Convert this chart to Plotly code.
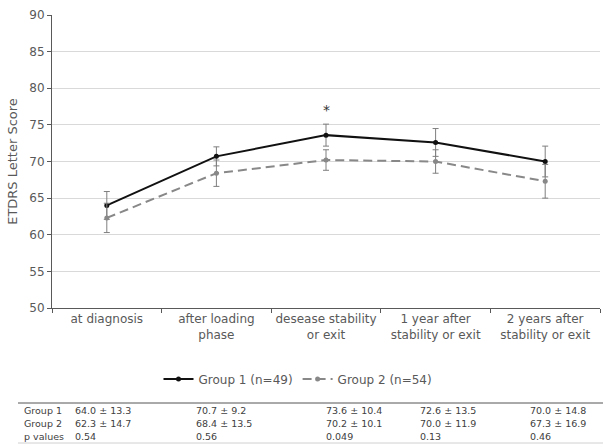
import plotly.graph_objects as go

categories = ["at diagnosis", "after loading<br>phase", "desease stability<br>or exit",
              "1 year after<br>stability or exit", "2 years after<br>stability or exit"]
group1_mean = [64.0, 70.7, 73.6, 72.6, 70.0]
group2_mean = [62.3, 68.4, 70.2, 70.0, 67.3]
group1_sd = [13.3, 9.2, 10.4, 13.5, 14.8]
group2_sd = [14.7, 13.5, 10.1, 11.9, 16.9]
group1_err = [1.9, 1.3, 1.5, 1.9, 2.1]
group2_err = [2.0, 1.8, 1.4, 1.6, 2.3]
p_values = ["0.54", "0.56", "0.049", "0.13", "0.46"]
y_ticks = [50, 55, 60, 65, 70, 75, 80, 85, 90]

FONT = "DejaVu Sans"
TXT = "#595959"

fig = go.Figure()
fig.add_trace(go.Scatter(
    x=categories, y=group1_mean, name="Group 1 (n=49)", mode="lines+markers",
    line=dict(color="#111111", width=2), marker=dict(size=5, color="#111111"),
    error_y=dict(type="data", array=group1_err, color="#7f7f7f", thickness=1, width=3),
))
fig.add_trace(go.Scatter(
    x=categories, y=group2_mean, name="Group 2 (n=54)", mode="lines+markers",
    line=dict(color="#888888", width=2, dash="9px,5px"), marker=dict(size=5, color="#888888"),
    error_y=dict(type="data", array=group2_err, color="#7f7f7f", thickness=1, width=3),
))

# significance marker
fig.add_annotation(x=categories[2], y=group1_mean[2] + group1_err[2], text="*",
                   showarrow=False, yshift=14, font=dict(size=14, color="#333333", family=FONT))

W, H = 604, 444
ml, mr, mt, mb = 52, 4, 15, 136
pw, ph = W - ml - mr, H - mt - mb

def px_x(x):
    return (x - ml) / pw

def px_y(y):
    return (H - mb - y) / ph

row_labels = ["Group 1", "Group 2", "p values"]
col_x = [73, 194, 324, 418, 528]
row_y = [410, 423, 436]
rows = [
    [f"{m:.1f} ± {s:.1f}" for m, s in zip(group1_mean, group1_sd)],
    [f"{m:.1f} ± {s:.1f}" for m, s in zip(group2_mean, group2_sd)],
    p_values,
]
for r, (lab, vals) in enumerate(zip(row_labels, rows)):
    fig.add_annotation(xref="paper", yref="paper", x=px_x(22), y=px_y(row_y[r]), text=lab,
                       showarrow=False, xanchor="left", yanchor="middle",
                       font=dict(size=9.5, color="#404040", family=FONT))
    for c, v in enumerate(vals):
        fig.add_annotation(xref="paper", yref="paper", x=px_x(col_x[c]), y=px_y(row_y[r]), text=v,
                           showarrow=False, xanchor="left", yanchor="middle",
                           font=dict(size=9.5, color="#404040", family=FONT))

fig.add_shape(type="line", xref="paper", yref="paper", x0=px_x(18), x1=px_x(603),
              y0=px_y(403), y1=px_y(403), line=dict(color="#555555", width=1))
fig.add_shape(type="line", xref="paper", yref="paper", x0=px_x(18), x1=px_x(603),
              y0=px_y(443), y1=px_y(443), line=dict(color="#d0d0d0", width=1))

fig.update_layout(
    width=W, height=H,
    margin=dict(l=ml, r=mr, t=mt, b=mb),
    paper_bgcolor="white", plot_bgcolor="white",
    font=dict(family=FONT, color=TXT, size=12),
    showlegend=True,
    legend=dict(orientation="h", x=px_x(298), xanchor="center", y=px_y(379), yanchor="middle",
                font=dict(size=12, color=TXT, family=FONT), itemwidth=30,
                bgcolor="rgba(0,0,0,0)"),
    xaxis=dict(
        type="category", range=[-0.5, 4.5], showline=True, linecolor="#595959", linewidth=1,
        ticks="outside", ticklen=4, tickcolor="#595959", tickson="boundaries",
        tickangle=0, showgrid=False, tickfont=dict(size=12, color=TXT, family=FONT),
    ),
    yaxis=dict(
        range=[50, 90], tickvals=y_ticks, showline=True, linecolor="#595959", linewidth=1,
        ticks="outside", ticklen=4, tickcolor="#595959",
        showgrid=True, gridcolor="#d9d9d9", gridwidth=1, zeroline=False,
        tickfont=dict(size=12, color=TXT, family=FONT),
        title=dict(text="ETDRS Letter Score", font=dict(size=13, color=TXT, family=FONT), standoff=8),
    ),
)

fig.write_html("out.html", config={"displayModeBar": False},
               post_script="document.body.style.margin='0px';")
